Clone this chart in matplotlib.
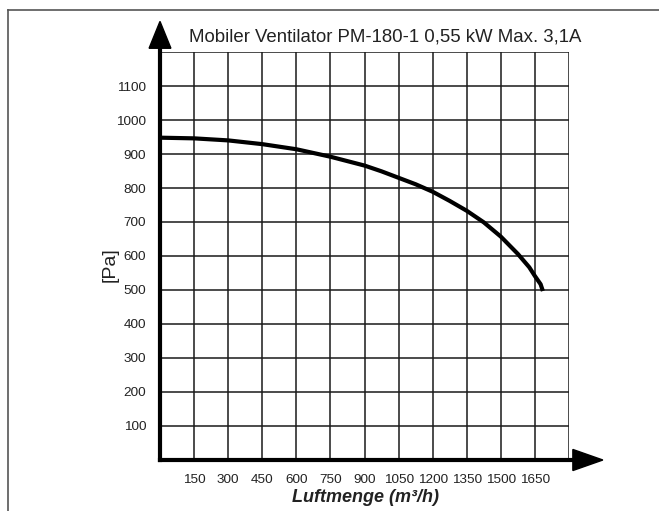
import matplotlib
matplotlib.use("Agg")
import matplotlib.pyplot as plt
from matplotlib.lines import Line2D
from matplotlib.patches import Polygon

plt.rcParams['font.family'] = ['Liberation Sans', 'DejaVu Sans']

title = "Mobiler Ventilator PM-180-1 0,55 kW Max. 3,1A"
xlabel = "Luftmenge (m³/h)"
ylabel = "[Pa]"
x_ticks = [150, 300, 450, 600, 750, 900, 1050, 1200, 1350, 1500, 1650]
y_ticks = [100, 200, 300, 400, 500, 600, 700, 800, 900, 1000, 1100]
flow = [0, 150, 300, 450, 600, 750, 900, 975, 1050, 1125, 1200, 1275, 1350,
        1425, 1500, 1575, 1625, 1650, 1675, 1685]
pressure = [948, 946, 940, 929, 914, 892, 866, 849, 830, 811, 789, 762, 733,
            699, 657, 606, 567, 541, 517, 497]

W, H = 659, 511
fig = plt.figure(figsize=(W / 100, H / 100), dpi=100)
ax = fig.add_axes([160 / W, 1 - 460 / H, (569 - 160) / W, (460 - 52) / H])
ax.set_xlim(0, 1800)
ax.set_ylim(0, 1200)

# grid
for gx in range(150, 1801, 150):
    ax.axvline(gx, color='#1a1a1a', lw=1.1, zorder=1)
for gy in range(100, 1201, 100):
    ax.axhline(gy, color='#1a1a1a', lw=1.1, zorder=1)

for s in ax.spines.values():
    s.set_visible(False)
ax.tick_params(length=0, labelsize=9.7, labelcolor='#222222', pad=10)
ax.set_xticks(x_ticks)
ax.set_xticklabels([str(v) for v in x_ticks])
ax.set_yticks(y_ticks)
ax.set_yticklabels([str(v) for v in y_ticks])

# curve
ax.plot(flow, pressure, color='black', lw=3.0, solid_capstyle='butt',
        solid_joinstyle='round', zorder=3)

# axes with arrows
ax.plot([0, 0], [0, 1211], color='black', lw=3.0, clip_on=False, zorder=4,
        solid_capstyle='projecting')
ax.plot([0, 1817], [0, 0], color='black', lw=3.0, clip_on=False, zorder=4,
        solid_capstyle='projecting')
ax.add_patch(Polygon([(-48, 1211), (48, 1211), (0, 1290)], closed=True,
                     color='black', clip_on=False, zorder=5))
ax.add_patch(Polygon([(1817, -31), (1817, 31), (1949, 0)], closed=True,
                     color='black', clip_on=False, zorder=5))

fig.text(189 / W, 1 - 37 / H, title, ha='left', va='center', fontsize=13.4,
         color='#222222')
fig.text(365 / W, 1 - 498 / H, xlabel, ha='center', va='center', fontsize=13,
         fontweight='bold', fontstyle='italic', color='#222222')
fig.text(110 / W, 1 - 265 / H, ylabel, ha='center', va='center', fontsize=14,
         rotation=90, color='#222222')

# outer frame (top and left)
fig.add_artist(Line2D([8 / W, 1.0], [1 - 10 / H, 1 - 10 / H], color='#555555',
                      lw=1.2, transform=fig.transFigure))
fig.add_artist(Line2D([8 / W, 8 / W], [1 - 10 / H, 0.0], color='#555555',
                      lw=1.2, transform=fig.transFigure))

fig.savefig("out.png", dpi=100)
